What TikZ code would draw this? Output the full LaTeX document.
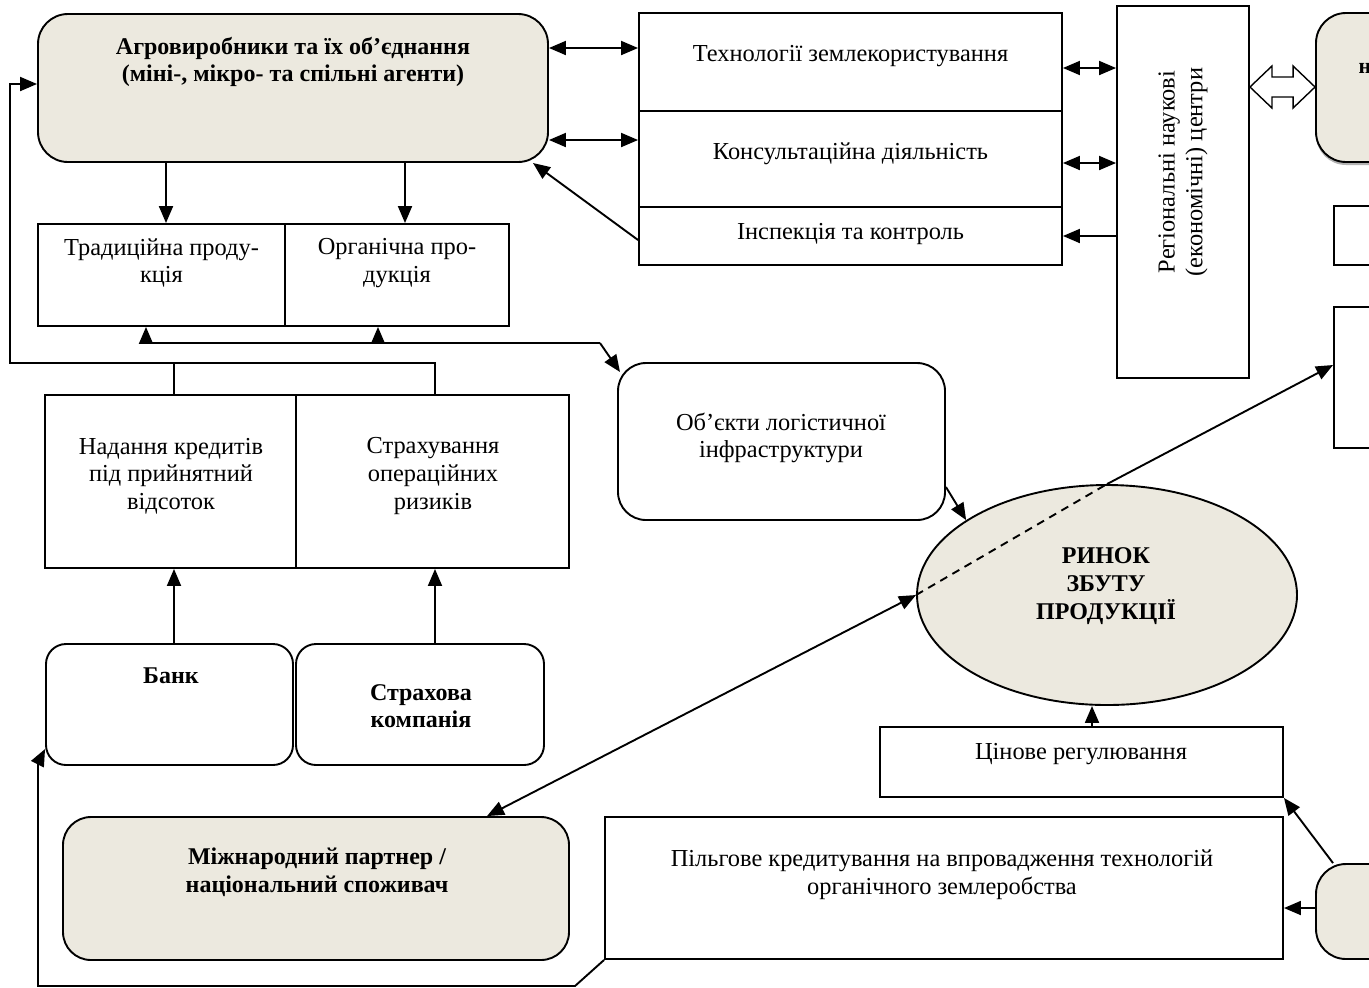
\documentclass[tikz,border=0pt]{standalone}
\usepackage{fontspec}
\setmainfont{Liberation Serif}
\usetikzlibrary{arrows.meta,shapes.geometric,calc,shadows}
\definecolor{beige}{RGB}{236,233,223}
\begin{document}
\begin{tikzpicture}[x=0.5pt,y=-0.5pt,
  lw/.style={line width=0.95pt},
  box/.style={draw,lw,fill=white,inner sep=0pt,rectangle},
  rbox/.style={box,rounded corners=#1},
  txt/.style={align=center,inner sep=0pt,font=\fontsize{12.2}{13.8}\selectfont},
  btxt/.style={align=center,inner sep=0pt,font=\fontsize{12}{13.8}\selectfont\bfseries},
  arr/.style={lw,-{Triangle[length=8.5pt,width=7pt]}},
  dblarr/.style={lw,{Triangle[length=8.5pt,width=7pt]}-{Triangle[length=8.5pt,width=7pt]}}
]
\useasboundingbox (0,0) rectangle (1369,987);
\clip (0,0) rectangle (1369,987);

% ---- nodes ----
\node[rbox=15pt,fill=beige,minimum width=255pt,minimum height=74pt] (agro) at (293,88) {};
\node[btxt] (agro-t) at (293,62) {Агровиробники та їх об’єднання\\(міні-, мікро- та спільні агенти)};

\node[box,minimum width=123.5pt,minimum height=51pt] (trad) at (161.5,275) {};
\node[txt] (trad-t) at (161.5,263) {Традиційна проду-\\кція};
\node[box,minimum width=112pt,minimum height=51pt] (org) at (397,275) {};
\node[txt] (org-t) at (397,263) {Органічна про-\\дукція};

\node[box,minimum width=211.5pt,minimum height=49pt] (tech) at (850.5,62) {};
\node[txt] (tech-t) at (850.5,56) {Технології землекористування};
\node[box,minimum width=211.5pt,minimum height=48pt] (cons) at (850.5,159) {};
\node[txt] (cons-t) at (850.5,154) {Консультаційна діяльність};
\node[box,minimum width=211.5pt,minimum height=29pt] (insp) at (850.5,236) {};
\node[txt] (insp-t) at (850.5,234) {Інспекція та контроль};

\node[box,minimum width=66pt,minimum height=186pt] (reg) at (1183,192) {};
\node[txt,rotate=90] (reg-t) at (1183,172) {Регіональні наукові\\(економічні) центри};

\node[rbox=15pt,fill=beige,minimum width=150pt,minimum height=74.5pt,
  drop shadow={shadow xshift=0pt,shadow yshift=-1.5pt,fill=black!60}] (tr) at (1466,87.5) {};
\node[font=\fontsize{11}{13}\selectfont\bfseries,inner sep=0pt] (tr-t) at (1365,68) {н};

\node[box,minimum width=133pt,minimum height=29.5pt] (r1) at (1467,235.5) {};
\node[box,minimum width=133pt,minimum height=70.5pt] (r2) at (1467,377.5) {};

\node[box,minimum width=125.5pt,minimum height=86.5pt] (credit) at (170.5,481.5) {};
\node[txt] (credit-t) at (171,476) {Надання кредитів\\під прийнятний\\відсоток};
\node[box,minimum width=136.5pt,minimum height=86.5pt] (insur) at (432.5,481.5) {};
\node[txt] (insur-t) at (433,476) {Страхування\\операційних\\ризиків};

\node[rbox=10pt,minimum width=123.5pt,minimum height=60.5pt] (bank) at (169.5,704.5) {};
\node[btxt] (bank-t) at (171,676) {Банк};
\node[rbox=10pt,minimum width=124pt,minimum height=60.5pt] (strakh) at (420,704.5) {};
\node[btxt] (strakh-t) at (421,706) {Страхова\\компанія};

\node[rbox=14pt,minimum width=163.5pt,minimum height=78.5pt] (obj) at (781.5,441.5) {};
\node[txt] (obj-t) at (781,438) {Об’єкти логістичної\\інфраструктури};

\node[ellipse,draw,lw,fill=beige,inner sep=0pt,minimum width=190pt,minimum height=110pt] (rynok) at (1107,595) {};
\node[btxt] (rynok-t) at (1106,586) {РИНОК\\ЗБУТУ\\ПРОДУКЦІЇ};

\node[box,minimum width=201.5pt,minimum height=35pt] (cina) at (1081.5,762) {};
\node[txt] (cina-t) at (1081,754) {Цінове регулювання};

\node[rbox=14pt,fill=beige,minimum width=253pt,minimum height=71.5pt] (mizh) at (316,888.5) {};
\node[btxt] (mizh-t) at (317,872) {Міжнародний партнер /\\національний споживач};

\node[box,minimum width=339pt,minimum height=71pt] (pilg) at (944,888) {};
\node[txt] (pilg-t) at (942,875) {Пільгове кредитування на впровадження технологій\\органічного землеробства};

\node[rbox=15pt,fill=beige,minimum width=150pt,minimum height=47.5pt] (br) at (1466,911.5) {};

% ---- connectors ----
\draw[dblarr] (agro.east |- 0,48) -- (tech.west |- 0,48);
\draw[dblarr] (agro.east |- 0,140) -- (cons.west |- 0,140);
\coordinate (agroc) at (533,163);
\draw[arr] (insp.west |- 0,240) -- (agroc);

\draw[dblarr] (tech.east |- 0,68) -- (reg.west |- 0,68);
\draw[dblarr] (cons.east |- 0,163) -- (reg.west |- 0,163);
\draw[arr] (reg.west |- 0,236) -- (insp.east |- 0,236);

\coordinate (ha) at (reg.east |- 0,87);
\coordinate (hb) at (tr.west |- 0,87);
\draw[line width=0.7pt,fill=white] (ha) -- ++(22,-21) -- ++(0,11) -- ($(hb)+(-22,-10)$) -- ++(0,-11) -- (hb)
  -- ++(-22,21) -- ++(0,-11) -- ($(ha)+(22,10)$) -- ++(0,11) -- cycle;

\draw[arr] (agro.south -| 166,0) -- (trad.north -| 166,0);
\draw[arr] (agro.south -| 405,0) -- (org.north -| 405,0);

\coordinate (ul) at (146,343);
\coordinate (um) at (378,343);
\coordinate (ur) at (600,343);
\coordinate (objin) at (620,372);
\draw[lw] (ul) -- (ur);
\draw[arr] (ul) -- (trad.south -| ul);
\draw[arr] (um) -- (org.south -| um);
\draw[arr] (ur) -- (objin);

\coordinate (fbA) at (174,363);
\coordinate (fbB) at (435,363);
\coordinate (fbL) at (10,363);
\coordinate (fbT) at (10,84);
\draw[lw] (credit.north -| fbA) -- (fbA);
\draw[arr] (insur.north -| fbB) -- (fbB) -- (fbL) -- (fbT) -- (agro.west |- fbT);

\draw[arr] (bank.north -| 174,0) -- (credit.south -| 174,0);
\draw[arr] (strakh.north -| 435,0) -- (insur.south -| 435,0);

\coordinate (bl1) at (575,986);
\coordinate (bl2) at (38,986);
\coordinate (bl3) at (38,763);
\draw[arr] (pilg.south west) -- (bl1) -- (bl2) -- (bl3) -- (bank.west |- 0,749);

\draw[arr] (obj.east |- 0,487) -- (rynok.152);

\draw[dblarr] (mizh.north -| 487,0) -- (rynok.west);
\draw[lw,dash pattern=on 4pt off 3pt] (rynok.west) -- (rynok.north);
\draw[arr] (rynok.north) -- (r2.west |- 0,365);

\draw[arr] (cina.north -| 1092,0) -- (rynok.south -| 1092,0);
\draw[arr] (br.west |- 0,908) -- (pilg.east |- 0,908);
\draw[arr] (br.north -| 1333,0) -- (cina.south east);
\end{tikzpicture}
\end{document}
